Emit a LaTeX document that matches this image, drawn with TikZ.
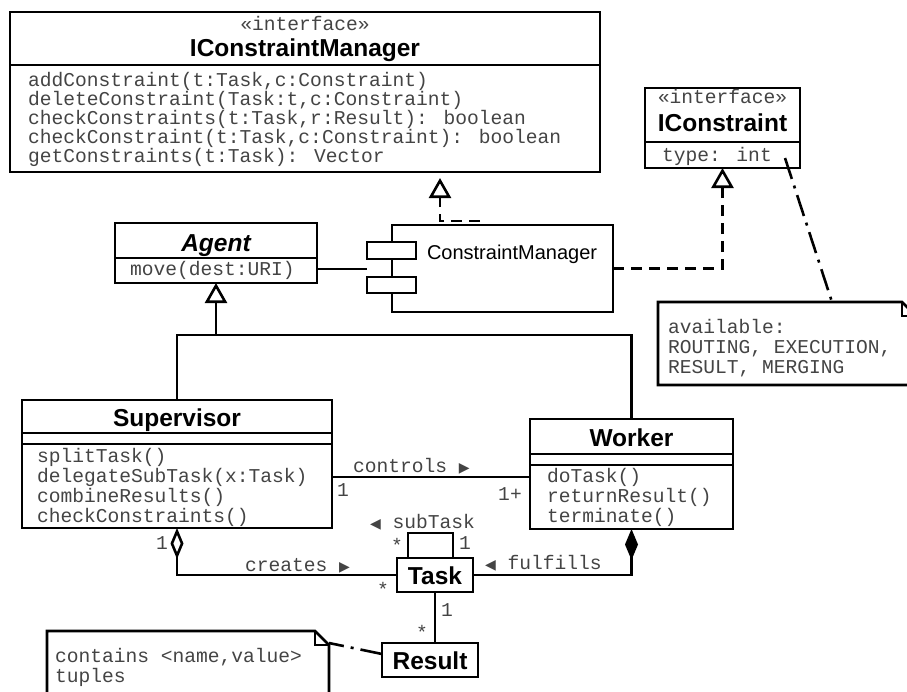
\documentclass[tikz,border=0pt]{standalone}
\usepackage{fontspec}
\setmainfont{Liberation Sans}
\newfontfamily\monof{Liberation Mono}
\newfontfamily\symf{DejaVu Sans}
\usetikzlibrary{arrows.meta}
\definecolor{ink}{HTML}{444444}
\newcommand{\rtri}{{\symf\fontsize{14}{14}\selectfont ▶}}
\newcommand{\ltri}{{\symf\fontsize{14}{14}\selectfont ◀}}

\begin{document}
\begin{tikzpicture}[x=1pt,y=-1pt,
  every node/.style={inner sep=0pt, outer sep=0pt},
  ln/.style={line width=2.6pt},
  box/.style={draw, line width=2.6pt, fill=white},
  mono/.style={font=\monof\fontsize{19.6}{19.6}\selectfont, text=ink, anchor=base west},
  ttl/.style={font=\fontsize{24.5}{24.5}\selectfont\bfseries, anchor=base},
  cmtxt/.style={font=\fontsize{20}{20}\selectfont, anchor=base west},
  gen/.style={ln, -{Triangle[open, length=20pt, width=22pt]}},
  real/.style={gen, dash pattern=on 11pt off 7pt},
  agg/.style={ln, -{Diamond[open, length=31pt, width=13pt]}},
  comp/.style={ln, -{Diamond[length=31pt, width=13pt]}},
  anchorline/.style={ln, dash pattern=on 22pt off 7pt on 3pt off 7pt},
  notefold/.style={line width=2pt},
]
\useasboundingbox (0,0) rectangle (907,691);
\clip (0,0) rectangle (907,691);

% ---- interface IConstraintManager
\node[box, minimum width=590pt, minimum height=160pt] (icm) at (305,92) {};
\draw[ln] ([yshift=-53pt]icm.north west) -- ([yshift=-53pt]icm.north east);
\node[mono, anchor=base] (icmst) at (305,30) {«interface»};
\node[ttl] (icmname) at (305,56) {IConstraintManager};
\node[mono] (icm1) at (28,86) {addConstraint(t:Task,c:Constraint)};
\node[mono] (icm2) at (28,105) {deleteConstraint(Task:t,c:Constraint)};
\node[mono] (icm3) at (28,124) {checkConstraints(t:Task,r:Result): boolean};
\node[mono] (icm4) at (28,143) {checkConstraint(t:Task,c:Constraint): boolean};
\node[mono] (icm5) at (28,162) {getConstraints(t:Task): Vector};

% ---- interface IConstraint
\node[box, minimum width=155pt, minimum height=80pt] (ic) at (722.5,128) {};
\draw[ln] ([yshift=-54pt]ic.north west) -- ([yshift=-54pt]ic.north east);
\node[mono, anchor=base] (icst) at (722.5,103) {«interface»};
\node[ttl] (icname) at (722.5,131) {IConstraint};
\node[mono] (ic1) at (662,161) {type: int};

% ---- note on the constraint types
\node[minimum width=258pt, minimum height=83pt] (n1) at (787,343.5) {};
\draw[ln, fill=white] (n1.south west) -- (n1.north west) -- ([xshift=-14pt]n1.north east)
  -- ([yshift=-14pt]n1.north east) -- (n1.south east) -- cycle;
\draw[notefold] ([xshift=-14pt]n1.north east) |- ([yshift=-14pt]n1.north east);
\node[mono] (n1a) at (668,333) {available:};
\node[mono] (n1b) at (668,353) {ROUTING, EXECUTION,};
\node[mono] (n1c) at (668,373) {RESULT, MERGING};

% ---- abstract class Agent
\node[box, minimum width=202pt, minimum height=60pt] (ag) at (216,253) {};
\draw[ln] ([yshift=-35pt]ag.north west) -- ([yshift=-35pt]ag.north east);
\node[ttl, font=\fontsize{24.5}{24.5}\selectfont\bfseries\itshape] (agname) at (216,251) {Agent};
\node[mono] (ag1) at (130,275) {move(dest:URI)};

% ---- component ConstraintManager
\node[box, minimum width=221pt, minimum height=87pt] (cm) at (502.5,268.5) {};
\node[box, minimum width=49pt, minimum height=17pt] (cmp1) at (391.5,250.5) {};
\node[box, minimum width=49pt, minimum height=16pt] (cmp2) at (391.5,285) {};
\node[cmtxt] (cmname) at (427,259) {ConstraintManager};

% ---- class Supervisor
\node[box, minimum width=310pt, minimum height=128pt] (sup) at (177,464) {};
\draw[ln] ([yshift=-33pt]sup.north west) -- ([yshift=-33pt]sup.north east);
\draw[ln] ([yshift=-44pt]sup.north west) -- ([yshift=-44pt]sup.north east);
\node[ttl] (supname) at (177,426) {Supervisor};
\node[mono] (sup1) at (37,462) {splitTask()};
\node[mono] (sup2) at (37,482) {delegateSubTask(x:Task)};
\node[mono] (sup3) at (37,502) {combineResults()};
\node[mono] (sup4) at (37,522) {checkConstraints()};

% ---- class Worker
\node[box, minimum width=203pt, minimum height=110pt] (wrk) at (631.5,474) {};
\draw[ln] ([yshift=-35pt]wrk.north west) -- ([yshift=-35pt]wrk.north east);
\draw[ln] ([yshift=-46pt]wrk.north west) -- ([yshift=-46pt]wrk.north east);
\node[ttl] (wrkname) at (631.5,446) {Worker};
\node[mono] (wrk1) at (547,482) {doTask()};
\node[mono] (wrk2) at (547,502) {returnResult()};
\node[mono] (wrk3) at (547,522) {terminate()};

% ---- classes Task and Result
\node[box, minimum width=76pt, minimum height=34pt] (task) at (435,575) {};
\node[ttl] (taskname) at (435,584) {Task};
\node[box, minimum width=96pt, minimum height=34pt] (res) at (430,660) {};
\node[ttl] (resname) at (430,669) {Result};

% ---- note on results
\node[minimum width=282pt, minimum height=100pt] (n2) at (188,681) {};
\draw[ln, fill=white] (n2.south west) -- (n2.north west) -- ([xshift=-14pt]n2.north east)
  -- ([yshift=-14pt]n2.north east) -- (n2.south east) -- cycle;
\draw[notefold] ([xshift=-14pt]n2.north east) |- ([yshift=-14pt]n2.north east);
\node[mono] (n2a) at (55,662) {contains <name,value>};
\node[mono] (n2b) at (55,682) {tuples};

% ---- realizations
\coordinate (cmtop) at ([xshift=48pt,yshift=4pt]cm.north west);
\draw[real, shorten >=6pt] ([xshift=40pt]cmtop) -- (cmtop) -- (cmtop |- icm.south);
\draw[real] (cm.east) -| (ic.south);

% ---- Agent uses ConstraintManager
\coordinate (agline) at (0,269);
\draw[ln] (ag.east |- agline) -- (cmp1.west |- agline);

% ---- generalization tree
\coordinate (hub) at (216,335);
\draw[ln] (sup.north) |- (hub);
\draw[ln] (wrk.north) |- (hub);
\draw[gen] (hub) -- (ag.south);

% ---- associations
\coordinate (ctrl) at (0,477);
\draw[ln] (sup.east |- ctrl) -- (wrk.west |- ctrl);
\draw[agg] (task.west) -| (sup.south);
\draw[comp] (task.east) -| (wrk.south);
\coordinate (lpL) at ([xshift=-27pt]task.north);
\coordinate (lpR) at ([xshift=18pt]task.north);
\draw[ln] (lpL) -- ++(0,-25) -| (lpR);
\draw[ln] (task.south) -- (task.south |- res.north);

% ---- note anchors
\coordinate (ictag) at ([xshift=-15pt,yshift=10pt]ic.south east);
\draw[anchorline] (ictag) -- ([xshift=45pt]n1.north);
\draw[anchorline] ([yshift=6pt]res.west) -- ([yshift=-12pt]n2.north east);

% ---- association labels and multiplicities
\node[mono] (lctrl) at (353,472) {controls \rtri};
\node[mono, anchor=base] (mc1) at (343,496) {1};
\node[mono, anchor=base] (mc2) at (510,500) {1+};
\node[mono] (lsub) at (370,528) {\ltri\ subTask};
\node[mono, anchor=base] (ms1) at (397,552) {*};
\node[mono, anchor=base] (ms2) at (465,549) {1};
\node[mono] (lful) at (485,569) {\ltri\ fulfills};
\node[mono] (lcre) at (245,571) {creates \rtri};
\node[mono, anchor=base] (ma1) at (162,549) {1};
\node[mono, anchor=base] (ms3) at (383,596) {*};
\node[mono, anchor=base] (mr1) at (447,616) {1};
\node[mono, anchor=base] (ms4) at (422,639) {*};
\end{tikzpicture}
\end{document}
